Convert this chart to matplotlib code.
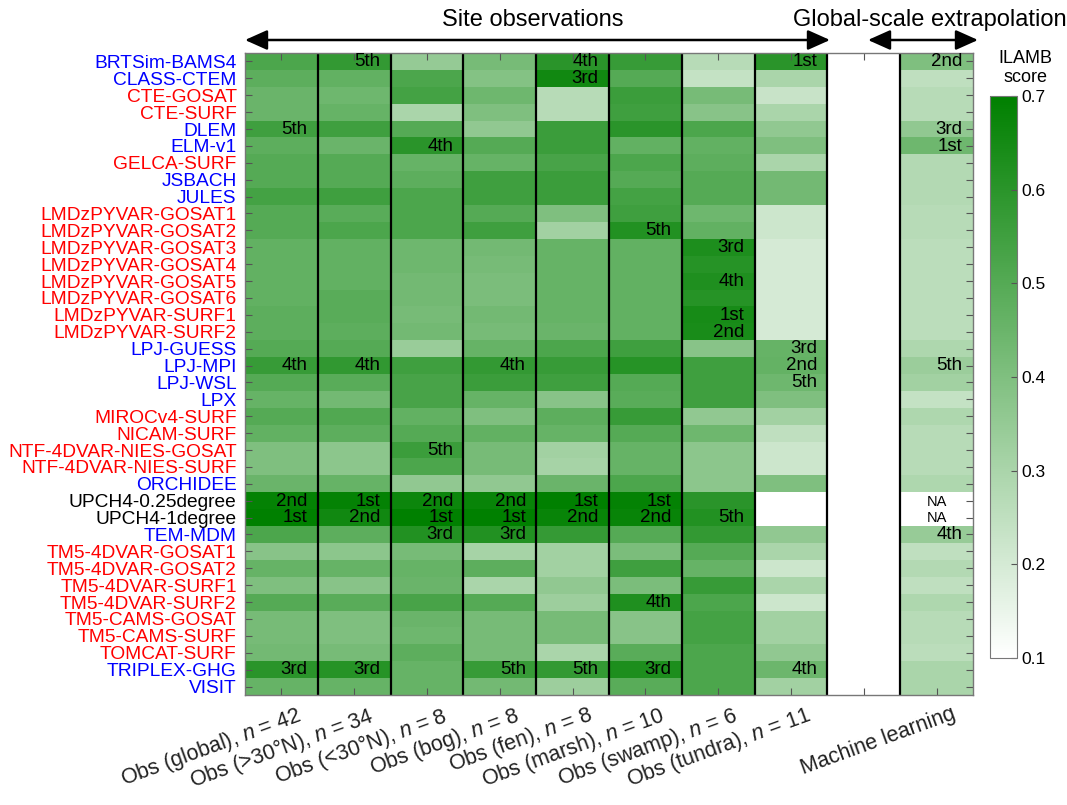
import numpy as np
import matplotlib
matplotlib.use("Agg")
import matplotlib.pyplot as plt
from matplotlib.colors import LinearSegmentedColormap
from matplotlib.patches import FancyArrowPatch

plt.rcParams['font.family'] = ['Liberation Sans', 'DejaVu Sans']
plt.rcParams['mathtext.fontset'] = 'custom'
plt.rcParams['mathtext.rm'] = 'Liberation Sans'
plt.rcParams['mathtext.it'] = 'Liberation Sans:italic'

models = ["BRTSim-BAMS4", "CLASS-CTEM", "CTE-GOSAT", "CTE-SURF", "DLEM", "ELM-v1",
          "GELCA-SURF", "JSBACH", "JULES", "LMDzPYVAR-GOSAT1", "LMDzPYVAR-GOSAT2",
          "LMDzPYVAR-GOSAT3", "LMDzPYVAR-GOSAT4", "LMDzPYVAR-GOSAT5", "LMDzPYVAR-GOSAT6",
          "LMDzPYVAR-SURF1", "LMDzPYVAR-SURF2", "LPJ-GUESS", "LPJ-MPI", "LPJ-WSL", "LPX",
          "MIROCv4-SURF", "NICAM-SURF", "NTF-4DVAR-NIES-GOSAT", "NTF-4DVAR-NIES-SURF",
          "ORCHIDEE", "UPCH4-0.25degree", "UPCH4-1degree", "TEM-MDM", "TM5-4DVAR-GOSAT1",
          "TM5-4DVAR-GOSAT2", "TM5-4DVAR-SURF1", "TM5-4DVAR-SURF2", "TM5-CAMS-GOSAT",
          "TM5-CAMS-SURF", "TOMCAT-SURF", "TRIPLEX-GHG", "VISIT"]
# b = process model (blue), r = inversion (red), k = upscaling (black)
model_type = ["b", "b", "r", "r", "b", "b", "r", "b", "b", "r", "r", "r", "r", "r", "r",
              "r", "r", "b", "b", "b", "b", "r", "r", "r", "r", "b", "k", "k", "b", "r",
              "r", "r", "r", "r", "r", "r", "b", "b"]

col_labels = ["Obs (global), $\\it{n}$ = 42", "Obs (>30°N), $\\it{n}$ = 34",
              "Obs (<30°N), $\\it{n}$ = 8", "Obs (bog), $\\it{n}$ = 8",
              "Obs (fen), $\\it{n}$ = 8", "Obs (marsh), $\\it{n}$ = 10",
              "Obs (swamp), $\\it{n}$ = 6", "Obs (tundra), $\\it{n}$ = 11",
              "", "Machine learning"]

nan = np.nan
obs_global = [0.52, 0.48, 0.45, 0.45, 0.55, 0.48, 0.50, 0.50, 0.54, 0.50, 0.50, 0.47, 0.47,
              0.47, 0.47, 0.48, 0.48, 0.50, 0.57, 0.50, 0.46, 0.50, 0.47, 0.40, 0.40, 0.45,
              0.69, 0.70, 0.52, 0.38, 0.46, 0.40, 0.50, 0.42, 0.42, 0.43, 0.60, 0.46]
obs_north = [0.58, 0.47, 0.44, 0.46, 0.55, 0.45, 0.50, 0.50, 0.55, 0.49, 0.52, 0.47, 0.47,
             0.47, 0.49, 0.49, 0.48, 0.50, 0.585, 0.49, 0.43, 0.51, 0.48, 0.37, 0.37, 0.46,
             0.69, 0.66, 0.48, 0.37, 0.46, 0.38, 0.49, 0.40, 0.40, 0.42, 0.61, 0.46]
obs_south = [0.35, 0.52, 0.54, 0.30, 0.50, 0.60, 0.46, 0.48, 0.52, 0.52, 0.52, 0.44, 0.44,
             0.43, 0.43, 0.42, 0.43, 0.34, 0.55, 0.53, 0.53, 0.47, 0.50, 0.56, 0.52, 0.36,
             0.67, 0.70, 0.62, 0.42, 0.46, 0.45, 0.53, 0.45, 0.44, 0.48, 0.46, 0.46]
obs_bog = [0.42, 0.39, 0.44, 0.40, 0.36, 0.50, 0.46, 0.55, 0.55, 0.50, 0.55, 0.43, 0.42,
           0.41, 0.41, 0.43, 0.42, 0.46, 0.58, 0.56, 0.46, 0.40, 0.47, 0.42, 0.42, 0.36,
           0.68, 0.70, 0.62, 0.31, 0.48, 0.30, 0.50, 0.42, 0.42, 0.42, 0.57, 0.43]
obs_fen = [0.60, 0.66, 0.27, 0.27, 0.56, 0.56, 0.53, 0.56, 0.56, 0.40, 0.32, 0.46, 0.46,
           0.46, 0.46, 0.46, 0.45, 0.52, 0.57, 0.55, 0.38, 0.48, 0.46, 0.32, 0.31, 0.45,
           0.70, 0.68, 0.575, 0.32, 0.32, 0.36, 0.33, 0.42, 0.42, 0.30, 0.58, 0.33]
obs_marsh = [0.57, 0.50, 0.56, 0.55, 0.60, 0.47, 0.52, 0.50, 0.54, 0.55, 0.62, 0.47, 0.47,
             0.47, 0.47, 0.47, 0.47, 0.55, 0.61, 0.50, 0.49, 0.57, 0.50, 0.46, 0.46, 0.52,
             0.69, 0.68, 0.50, 0.41, 0.55, 0.41, 0.625, 0.38, 0.38, 0.49, 0.63, 0.49]
obs_swamp = [0.27, 0.24, 0.42, 0.38, 0.52, 0.47, 0.48, 0.50, 0.50, 0.44, 0.47, 0.63, 0.61,
             0.625, 0.61, 0.645, 0.64, 0.38, 0.55, 0.55, 0.55, 0.36, 0.44, 0.37, 0.37, 0.37,
             0.60, 0.62, 0.58, 0.50, 0.46, 0.57, 0.52, 0.54, 0.54, 0.52, 0.52, 0.52]
obs_tundra = [0.60, 0.30, 0.23, 0.30, 0.36, 0.40, 0.30, 0.43, 0.43, 0.22, 0.22, 0.20, 0.20,
              0.20, 0.20, 0.20, 0.20, 0.46, 0.465, 0.44, 0.40, 0.32, 0.25, 0.22, 0.22, 0.40,
              nan, nan, 0.36, 0.30, 0.22, 0.30, 0.22, 0.32, 0.32, 0.36, 0.445, 0.32]
gap_column = [nan] * 38
machine_learning = [0.40, 0.25, 0.27, 0.27, 0.36, 0.44, 0.28, 0.28, 0.28, 0.27, 0.27, 0.26,
                    0.26, 0.26, 0.26, 0.26, 0.26, 0.29, 0.335, 0.32, 0.24, 0.29, 0.27, 0.27,
                    0.27, 0.29, nan, nan, 0.345, 0.25, 0.28, 0.25, 0.29, 0.27, 0.27, 0.26,
                    0.30, 0.30]

# rank annotations: (column, row, text)
ranks = [(0, 4, "5th"), (0, 18, "4th"), (0, 26, "2nd"), (0, 27, "1st"), (0, 36, "3rd"),
         (1, 0, "5th"), (1, 18, "4th"), (1, 26, "1st"), (1, 27, "2nd"), (1, 36, "3rd"),
         (2, 5, "4th"), (2, 23, "5th"), (2, 26, "2nd"), (2, 27, "1st"), (2, 28, "3rd"),
         (3, 18, "4th"), (3, 26, "2nd"), (3, 27, "1st"), (3, 28, "3rd"), (3, 36, "5th"),
         (4, 0, "4th"), (4, 1, "3rd"), (4, 26, "1st"), (4, 27, "2nd"), (4, 36, "5th"),
         (5, 10, "5th"), (5, 26, "1st"), (5, 27, "2nd"), (5, 32, "4th"), (5, 36, "3rd"),
         (6, 11, "3rd"), (6, 13, "4th"), (6, 15, "1st"), (6, 16, "2nd"), (6, 27, "5th"),
         (7, 0, "1st"), (7, 17, "3rd"), (7, 18, "2nd"), (7, 19, "5th"), (7, 36, "4th"),
         (9, 0, "2nd"), (9, 4, "3rd"), (9, 5, "1st"), (9, 18, "5th"), (9, 28, "4th")]
na_cells = [(9, 26), (9, 27)]

data = np.array([obs_global, obs_north, obs_south, obs_bog, obs_fen, obs_marsh,
                 obs_swamp, obs_tundra, gap_column, machine_learning]).T
nrow, ncol = data.shape

cmap = LinearSegmentedColormap.from_list("wg", [(1, 1, 1), (0, 0.5, 0)], N=256)
cmap.set_bad("white")

W, H = 1067, 805
fig = plt.figure(figsize=(W / 100, H / 100), dpi=100)
ax = fig.add_axes([245 / W, 1 - 695 / H, (973 - 245) / W, (695 - 53) / H])
mesh = ax.pcolormesh(np.arange(ncol + 1), np.arange(nrow + 1),
                     np.ma.masked_invalid(data), cmap=cmap, vmin=0.1, vmax=0.7)
ax.set_xlim(0, ncol)
ax.set_ylim(nrow, 0)
for x in range(1, ncol):
    ax.axvline(x, color="black", lw=1.6)

ax.set_yticks(np.arange(nrow) + 0.5)
ax.set_yticklabels(models, fontsize=13.8)
cmap_lbl = {"b": "#0000ff", "r": "#ff0000", "k": "black"}
for lbl, t in zip(ax.get_yticklabels(), model_type):
    lbl.set_color(cmap_lbl[t])
ax.set_xticks(np.arange(ncol) + 0.5)
ax.set_xticklabels([])
ax.tick_params(direction="in", top=True, right=True, length=5, width=0.8,
               color="#555555", pad=6)
for s in ax.spines.values():
    s.set_color("#777777")
    s.set_linewidth(1.0)

# x labels
for i, lab in enumerate(col_labels):
    if not lab:
        continue
    ax.text(i + 0.5 + 0.2, -0.013, lab, transform=ax.get_xaxis_transform(),
            rotation=20, rotation_mode="anchor", ha="right", va="top",
            fontsize=15.5, color="#222222")

# rank labels
for c, r, t in ranks:
    ax.text(c + 0.86, r + 0.52, t, ha="right", va="center", fontsize=13.5, color="black")
for c, r in na_cells:
    ax.text(c + 0.5, r + 0.55, "NA", ha="center", va="center", fontsize=10.5, color="black")

# colorbar
cax = fig.add_axes([990 / W, 1 - 658 / H, 27 / W, (658 - 96) / H])
cb = fig.colorbar(mesh, cax=cax, ticks=[0.1, 0.2, 0.3, 0.4, 0.5, 0.6, 0.7])
cb.ax.tick_params(direction="in", length=4, width=0.8, color="#555555", labelsize=12.5)
cb.outline.set_edgecolor("#777777")
cb.ax.yaxis.set_major_formatter(matplotlib.ticker.FormatStrFormatter("%.1f"))
fig.text(1025 / W, 1 - 68 / H, "ILAMB\nscore", ha="center", va="center",
         fontsize=13, linespacing=1.2)

# header arrows and titles
ya = 1 - 40 / H
for x0, x1 in [(245, 830), (868, 978)]:
    arr = FancyArrowPatch((x0 / W, ya), (x1 / W, ya), transform=fig.transFigure,
                          arrowstyle="<|-|>,head_length=0.85,head_width=0.38",
                          mutation_scale=16, color="black", lw=1.8,
                          shrinkA=0, shrinkB=0)
    fig.patches.append(arr)
fig.text(533 / W, 1 - 20 / H, "Site observations", ha="center", va="center", fontsize=17)
fig.text(930 / W, 1 - 20 / H, "Global-scale extrapolation", ha="center", va="center",
         fontsize=17)

fig.savefig("out.png", dpi=100)
